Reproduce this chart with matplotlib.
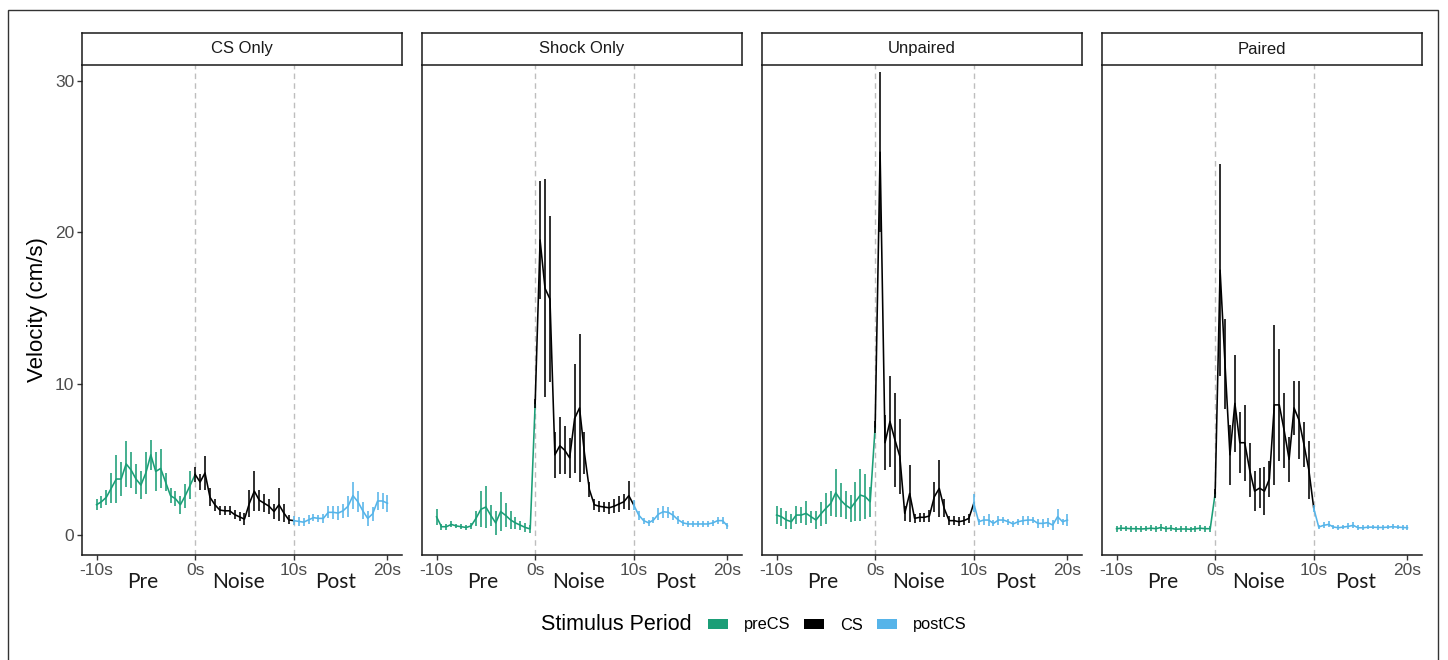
import matplotlib.pyplot as plt
from matplotlib.patches import Patch, Rectangle
import matplotlib.transforms as mtransforms

# Paineis e periodos
paineis = ['CS Only', 'Shock Only', 'Unpaired', 'Paired']
periodos = ['preCS', 'CS', 'postCS']
cores = {'preCS': '#1B9E77', 'CS': '#000000', 'postCS': '#56B4E9'}

# Bins de tempo (s), 0.5 s
t_pre = [-10, -9.5, -9, -8.5, -8, -7.5, -7, -6.5, -6, -5.5,
         -5, -4.5, -4, -3.5, -3, -2.5, -2, -1.5, -1, -0.5]
t_cs = [0, 0.5, 1, 1.5, 2, 2.5, 3, 3.5, 4, 4.5,
        5, 5.5, 6, 6.5, 7, 7.5, 8, 8.5, 9, 9.5]
t_post = [10, 10.5, 11, 11.5, 12, 12.5, 13, 13.5, 14, 14.5,
          15, 15.5, 16, 16.5, 17, 17.5, 18, 18.5, 19, 19.5]

# CS Only
cs_only_pre = [2.0, 2.2, 2.5, 3.1, 3.7, 3.7, 4.7, 4.3, 3.7, 3.3,
               4.1, 5.3, 4.2, 4.4, 3.5, 2.6, 2.4, 2.0, 2.6, 3.3]
cs_only_pre_se = [0.35, 0.4, 0.5, 1.0, 1.6, 1.1, 1.5, 1.2, 1.0, 0.9,
                  1.4, 1.0, 1.3, 1.3, 0.6, 0.5, 0.5, 0.6, 0.8, 0.9]
cs_only_cs = [4.0, 3.5, 4.1, 2.5, 2.0, 1.65, 1.6, 1.6, 1.35, 1.2,
              1.05, 2.1, 2.9, 2.3, 2.1, 1.9, 1.55, 2.0, 1.45, 1.0]
cs_only_cs_se = [0.5, 0.5, 1.1, 0.6, 0.4, 0.3, 0.3, 0.3, 0.3, 0.3,
                 0.4, 0.9, 1.3, 0.7, 0.6, 0.5, 0.5, 1.1, 0.6, 0.3]
cs_only_post = [0.95, 0.9, 0.85, 1.0, 1.15, 1.1, 1.1, 1.5, 1.5, 1.45,
                1.6, 1.9, 2.6, 2.2, 1.6, 1.1, 1.4, 2.25, 2.25, 2.1]
cs_only_post_se = [0.3, 0.3, 0.25, 0.3, 0.25, 0.25, 0.3, 0.4, 0.45, 0.45,
                   0.45, 0.7, 0.9, 0.7, 0.55, 0.5, 0.45, 0.6, 0.5, 0.55]

# Shock Only
shock_pre = [1.2, 0.55, 0.55, 0.7, 0.6, 0.55, 0.5, 0.6, 1.1, 1.7,
             1.85, 1.3, 0.8, 1.55, 1.3, 1.0, 0.8, 0.65, 0.5, 0.4]
shock_pre_se = [0.55, 0.2, 0.2, 0.2, 0.15, 0.15, 0.15, 0.2, 0.5, 1.2,
                1.4, 0.7, 0.8, 1.3, 0.8, 0.6, 0.4, 0.3, 0.3, 0.25]
shock_cs = [8.7, 19.5, 16.3, 15.6, 5.3, 5.9, 5.6, 5.1, 7.7, 8.4,
            5.4, 3.0, 2.0, 1.9, 1.85, 1.8, 1.9, 2.05, 2.2, 2.6]
shock_cs_se = [0.3, 3.9, 7.2, 5.5, 1.5, 1.9, 1.6, 1.3, 3.6, 4.9,
               1.4, 0.5, 0.35, 0.35, 0.35, 0.4, 0.45, 0.5, 0.5, 0.95]
shock_post = [1.98, 1.32, 0.95, 0.81, 0.99, 1.38, 1.54, 1.5, 1.3, 1.0,
              0.8, 0.73, 0.73, 0.73, 0.73, 0.73, 0.8, 0.95, 0.95, 0.6]
shock_post_se = [0.35, 0.3, 0.2, 0.2, 0.2, 0.4, 0.4, 0.35, 0.3, 0.25,
                 0.2, 0.2, 0.2, 0.2, 0.2, 0.2, 0.2, 0.25, 0.25, 0.2]

# Unpaired
unpaired_pre = [1.32, 1.21, 0.99, 0.88, 1.32, 1.32, 1.43, 1.21, 0.99, 1.4,
                1.76, 2.09, 2.79, 2.31, 1.98, 1.76, 2.2, 2.64, 2.53, 2.2]
unpaired_pre_se = [0.6, 0.6, 0.6, 0.5, 0.6, 0.5, 0.8, 0.4, 0.6, 0.8,
                   1.0, 0.8, 1.6, 1.1, 0.9, 0.9, 1.3, 1.7, 1.5, 1.0]
unpaired_cs = [7.16, 25.3, 6.1, 7.5, 6.3, 5.2, 1.43, 2.75, 1.1, 1.17,
               1.17, 1.26, 2.53, 3.08, 1.76, 0.95, 0.95, 0.88, 0.95, 1.1]
unpaired_cs_se = [0.4, 5.3, 1.8, 3.0, 3.1, 2.5, 0.5, 1.9, 0.3, 0.3,
                  0.3, 0.4, 1.0, 1.9, 0.6, 0.3, 0.3, 0.3, 0.3, 0.3]
unpaired_post = [2.09, 0.88, 0.99, 0.99, 0.77, 0.99, 0.99, 0.88, 0.73, 0.88,
                 0.95, 0.99, 0.99, 0.77, 0.77, 0.82, 0.66, 1.21, 0.88, 0.99]
unpaired_post_se = [0.6, 0.2, 0.3, 0.4, 0.2, 0.3, 0.2, 0.2, 0.2, 0.2,
                    0.3, 0.3, 0.2, 0.3, 0.3, 0.3, 0.3, 0.5, 0.2, 0.4]

# Paired
paired_pre = [0.42, 0.45, 0.44, 0.42, 0.42, 0.4, 0.42, 0.45, 0.42, 0.5,
              0.42, 0.45, 0.38, 0.4, 0.4, 0.38, 0.42, 0.45, 0.42, 0.42]
paired_pre_se = [0.2, 0.2, 0.18, 0.2, 0.2, 0.2, 0.18, 0.2, 0.2, 0.22,
                 0.2, 0.2, 0.18, 0.2, 0.2, 0.18, 0.2, 0.2, 0.2, 0.2]
paired_cs = [2.75, 17.5, 11.3, 5.3, 8.7, 6.1, 6.1, 4.3, 2.9, 3.1,
             2.9, 3.7, 8.6, 8.6, 6.9, 5.0, 8.4, 7.6, 6.0, 4.3]
paired_cs_se = [0.3, 7.0, 3.0, 2.0, 3.2, 2.0, 2.5, 1.8, 1.3, 1.3,
                1.6, 1.2, 5.3, 3.7, 2.5, 1.5, 1.8, 2.6, 1.5, 1.9]
paired_post = [1.76, 0.53, 0.64, 0.7, 0.53, 0.48, 0.53, 0.57, 0.64, 0.48,
               0.48, 0.52, 0.52, 0.5, 0.5, 0.52, 0.55, 0.52, 0.5, 0.48]
paired_post_se = [0.25, 0.15, 0.2, 0.2, 0.15, 0.15, 0.15, 0.2, 0.2, 0.15,
                  0.15, 0.15, 0.15, 0.15, 0.15, 0.15, 0.15, 0.15, 0.15, 0.15]

dados = {
    'CS Only': [(cs_only_pre, cs_only_pre_se), (cs_only_cs, cs_only_cs_se), (cs_only_post, cs_only_post_se)],
    'Shock Only': [(shock_pre, shock_pre_se), (shock_cs, shock_cs_se), (shock_post, shock_post_se)],
    'Unpaired': [(unpaired_pre, unpaired_pre_se), (unpaired_cs, unpaired_cs_se), (unpaired_post, unpaired_post_se)],
    'Paired': [(paired_pre, paired_pre_se), (paired_cs, paired_cs_se), (paired_post, paired_post_se)],
}
tempos = [t_pre, t_cs, t_post]

x_ticks = [-10, 0, 10, 19.5]
x_ticklabels = ['-10s', '0s', '10s', '20s']
rotulos_fase = ['Pre', 'Noise', 'Post']
pos_fase = [-5.3, 4.4, 14.2]

W, H = 1448, 660
plt.rcParams['font.family'] = ['Liberation Sans', 'DejaVu Sans']
fig = plt.figure(figsize=(W / 100, H / 100), dpi=100)

# moldura externa
fig.patches.append(Rectangle((8 / W, -0.01), 1430 / W, 1 - 10 / H + 0.01,
                             transform=fig.transFigure, fill=False,
                             edgecolor='#333333', lw=1.0))

lefts = [82, 422, 762, 1102]
cinza = '#4D4D4D'
for i, nome in enumerate(paineis):
    ax = fig.add_axes([lefts[i] / W, 1 - 555 / H, 320 / W, 490 / H])
    for k, per in enumerate(periodos):
        m, se = dados[nome][k]
        t = tempos[k]
        # linha colorida pelo periodo, ligando ao primeiro ponto do proximo
        xs, ys = list(t), list(m)
        if k < 2:
            xs.append(tempos[k + 1][0])
            ys.append(dados[nome][k + 1][0][0])
        ax.plot(xs, ys, color=cores[per], lw=1.15, zorder=3)
        ax.vlines(t, [a - b for a, b in zip(m, se)], [a + b for a, b in zip(m, se)],
                  color=cores[per], lw=1.15, zorder=3)
    for xv in [0, 10]:
        ax.axvline(xv, color='#BEBEBE', ls=(0, (4, 3)), lw=1.0, zorder=1)
    ax.set_xlim(-10 - 1.475, 19.5 + 1.475)
    ax.set_ylim(-1.32, 31.06)
    for s in ['top', 'right']:
        ax.spines[s].set_visible(False)
    for s in ['left', 'bottom']:
        ax.spines[s].set_linewidth(1.1)
        ax.spines[s].set_color('#1a1a1a')
    ax.set_xticks(x_ticks)
    ax.set_xticklabels(x_ticklabels)
    ax.tick_params(axis='x', length=3.5, width=1.0, color='#333333',
                   labelsize=12.5, labelcolor=cinza, pad=2.5)
    if i == 0:
        ax.set_yticks([0, 10, 20, 30])
        ax.tick_params(axis='y', length=3.5, width=1.0, color='#333333',
                       labelsize=12.5, labelcolor=cinza, pad=2)
        ax.set_ylabel('Velocity (cm/s)', fontsize=16, color='#000000', labelpad=5)
    else:
        ax.set_yticks([])
    trans = mtransforms.blended_transform_factory(ax.transData, ax.transAxes)
    for rot, px in zip(rotulos_fase, pos_fase):
        ax.text(px, -0.055, rot, transform=trans, ha='center', va='center',
                fontsize=15, family=['Lato', 'DejaVu Sans'], color='#1a1a1a')

    # faixa (strip) do facet
    st = fig.add_axes([lefts[i] / W, 1 - 65 / H, 320 / W, 32 / H])
    st.set_xticks([])
    st.set_yticks([])
    for s in st.spines.values():
        s.set_linewidth(1.1)
        s.set_color('#1a1a1a')
    st.text(0.5, 0.5, nome, ha='center', va='center', fontsize=12,
            color='#1a1a1a', transform=st.transAxes)

# legenda
fig.text(541 / W, 1 - 625 / H, 'Stimulus Period', ha='left', va='center',
         fontsize=15.5, color='#000000')
handles = [Patch(facecolor=cores[p], edgecolor='none', label=p) for p in periodos]
fig.legend(handles=handles, loc='center left', bbox_to_anchor=(708 / W, 1 - 625 / H),
           ncol=3, frameon=False, fontsize=11.8, handlelength=1.2, handleheight=0.6,
           handletextpad=1.0, columnspacing=0.85, borderpad=0, borderaxespad=0)

fig.savefig('out.png', dpi=100)
